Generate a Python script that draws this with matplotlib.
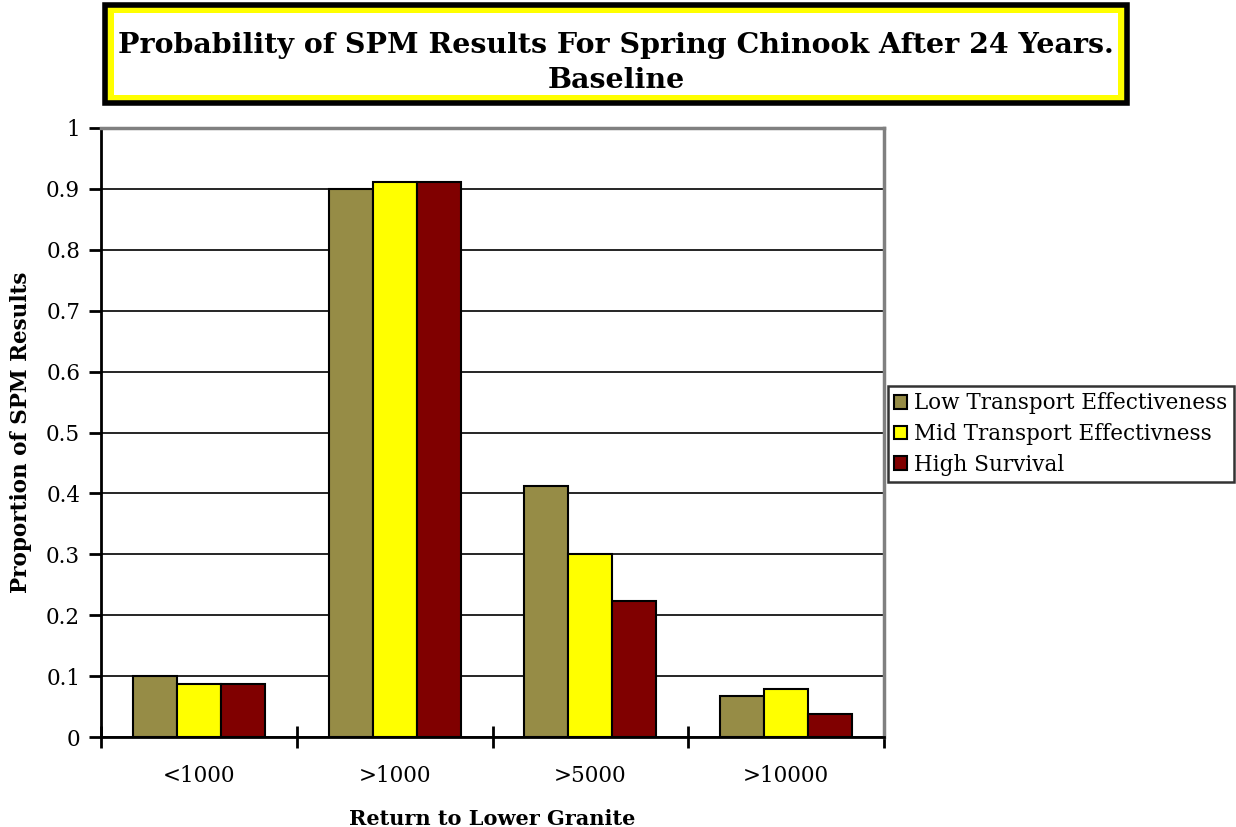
import matplotlib.pyplot as plt
import numpy as np
from matplotlib.patches import Rectangle

# data
categories = ['<1000', '>1000', '>5000', '>10000']
series_names = ['Low Transport Effectiveness', 'Mid Transport Effectivness', 'High Survival']
low_vals = [0.100, 0.900, 0.412, 0.067]
mid_vals = [0.087, 0.911, 0.300, 0.079]
high_vals = [0.087, 0.911, 0.224, 0.037]
colors = ['#968C46', '#FFFF00', '#800000']
yticks = [0, 0.1, 0.2, 0.3, 0.4, 0.5, 0.6, 0.7, 0.8, 0.9, 1]
ytick_labels = ['0', '0.1', '0.2', '0.3', '0.4', '0.5', '0.6', '0.7', '0.8', '0.9', '1']

plt.rcParams['font.family'] = ['DejaVu Serif']

fig = plt.figure(figsize=(12.36, 8.27), dpi=100)
ax = fig.add_axes([101/1236, 1-737/827, 783/1236, 609/827])

x = np.arange(len(categories))
w = 0.225
for i, vals in enumerate([low_vals, mid_vals, high_vals]):
    ax.bar(x + (i-1)*w, vals, w, color=colors[i], edgecolor='black',
           linewidth=1.5, label=series_names[i], zorder=3)

ax.set_xlim(-0.5, len(categories)-0.5)
ax.set_ylim(0, 1)
ax.set_yticks(yticks)
ax.set_yticklabels(ytick_labels, fontsize=15.5)
ax.yaxis.grid(True, color='black', linewidth=1.2, zorder=0)

# ticks on category borders, labels in the middle
ax.set_xticks(np.arange(len(categories)+1) - 0.5)
ax.set_xticklabels([])
ax.set_xticks(x, minor=True)
ax.set_xticklabels(categories, minor=True, fontsize=15.5)
ax.tick_params(axis='x', which='major', direction='inout', length=16, width=2)
ax.tick_params(axis='x', which='minor', length=0, pad=20)
ax.tick_params(axis='y', direction='out', length=9, width=2, pad=6)

for s in ['left', 'bottom']:
    ax.spines[s].set_linewidth(2)
    ax.spines[s].set_color('black')
for s in ['top', 'right']:
    ax.spines[s].set_linewidth(2.5)
    ax.spines[s].set_color('#808080')

ax.set_xlabel('Return to Lower Granite', fontsize=15, fontweight='bold', labelpad=16)
ax.set_ylabel('Proportion of SPM Results', fontsize=15.5, fontweight='bold', labelpad=10)

leg = ax.legend(loc='center left', bbox_to_anchor=(888/1236, 1-434/827),
                bbox_transform=fig.transFigure, fontsize=15.5, frameon=True,
                fancybox=False, edgecolor='black', handlelength=0.6,
                handleheight=0.6, handletextpad=0.3, borderpad=0.3,
                labelspacing=0.4, borderaxespad=0)
leg.get_frame().set_linewidth(1.8)

# title box
fig.patches.append(Rectangle((105/1236, 1-103/827), 1022/1236, 98/827,
                             transform=fig.transFigure, facecolor='#FFFF00',
                             edgecolor='black', linewidth=4, zorder=1))
fig.patches.append(Rectangle((114/1236, 1-95/827), 1004/1236, 82/827,
                             transform=fig.transFigure, facecolor='white',
                             edgecolor='none', zorder=2))
fig.text(616/1236, 1-63/827, 'Probability of SPM Results For Spring Chinook After 24 Years.\nBaseline',
         ha='center', va='center', fontsize=20.5, fontweight='bold',
         linespacing=1.35, zorder=3)

fig.savefig('out.png', dpi=100)
